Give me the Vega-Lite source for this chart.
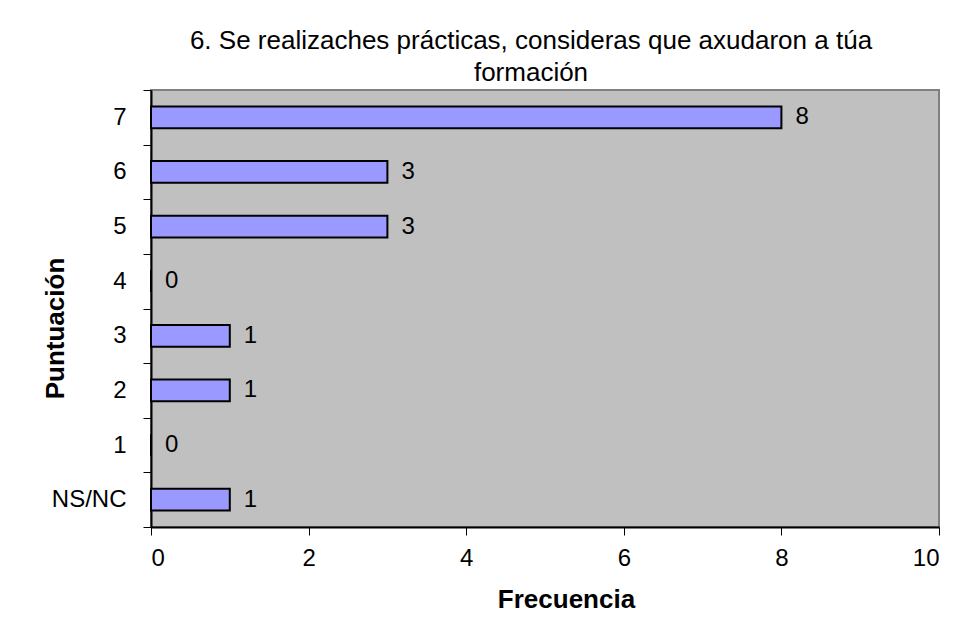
{
  "$schema": "https://vega.github.io/schema/vega-lite/v6.json",
  "autosize": {"type": "none"},
  "width": 788,
  "height": 437,
  "padding": {"left": 151, "top": 90, "right": 30, "bottom": 105},
  "background": "white",
  "config": {
    "font": "Liberation Sans",
    "view": {"fill": "#C0C0C0", "stroke": "#808080", "strokeWidth": 2}
  },
  "title": {
    "text": ["6. Se realizaches prácticas, consideras que axudaron a túa", "formación"],
    "font": "Liberation Sans",
    "fontSize": 26,
    "fontWeight": "normal",
    "color": "black",
    "anchor": "middle",
    "frame": "group",
    "dx": -14,
    "lineHeight": 32,
    "offset": -8
  },
  "data": {
    "values": [
      {"puntuacion": "7", "frecuencia": 8},
      {"puntuacion": "6", "frecuencia": 3},
      {"puntuacion": "5", "frecuencia": 3},
      {"puntuacion": "4", "frecuencia": 0},
      {"puntuacion": "3", "frecuencia": 1},
      {"puntuacion": "2", "frecuencia": 1},
      {"puntuacion": "1", "frecuencia": 0},
      {"puntuacion": "NS/NC", "frecuencia": 1}
    ]
  },
  "encoding": {
    "y": {
      "field": "puntuacion",
      "type": "nominal",
      "sort": ["7", "6", "5", "4", "3", "2", "1", "NS/NC"],
      "scale": {"paddingInner": 0, "paddingOuter": 0},
      "axis": {
        "title": "Puntuación",
        "titleFont": "Liberation Sans",
        "titleFontSize": 26,
        "titleFontWeight": "bold",
        "titleColor": "black",
        "titleBaseline": "alphabetic",
        "titleAngle": -90,
        "titleX": -88,
        "titleY": 238,
        "labelFont": "Liberation Sans",
        "labelFontSize": 24,
        "labelColor": "black",
        "labelPadding": 17,
        "tickBand": "extent",
        "tickSize": 8,
        "tickColor": "black",
        "tickWidth": 1,
        "domainColor": "black",
        "domainWidth": 2,
        "grid": false
      }
    },
    "x": {
      "field": "frecuencia",
      "type": "quantitative",
      "scale": {"domain": [0, 10], "nice": false},
      "axis": {
        "title": "Frecuencia",
        "values": [0, 2, 4, 6, 8, 10],
        "titleFont": "Liberation Sans",
        "titleFontSize": 26,
        "titleFontWeight": "bold",
        "titleColor": "black",
        "titleBaseline": "alphabetic",
        "titleX": 415,
        "titleY": 80,
        "labelFont": "Liberation Sans",
        "labelFontSize": 24,
        "labelColor": "black",
        "labelPadding": 11,
        "tickSize": 8,
        "tickColor": "black",
        "tickWidth": 1,
        "domainColor": "black",
        "domainWidth": 2,
        "grid": false
      }
    }
  },
  "layer": [
    {
      "mark": {"type": "bar", "fill": "#9999FF", "stroke": "black", "strokeWidth": 2, "cornerRadius": 0, "height": {"band": 0.4}}
    },
    {
      "mark": {"type": "text", "align": "left", "baseline": "middle", "dx": 14, "fontSize": 24, "font": "Liberation Sans", "color": "black"},
      "encoding": {"text": {"field": "frecuencia", "type": "quantitative"}}
    }
  ]
}
